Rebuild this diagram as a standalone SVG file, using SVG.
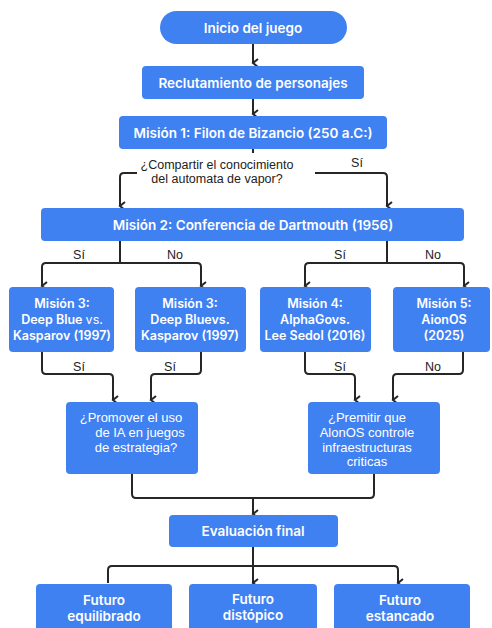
<svg xmlns="http://www.w3.org/2000/svg" width="492" height="628" viewBox="0 0 492 628">
<defs>
<marker id="ah" viewBox="0 0 10 10" refX="5" refY="8" markerWidth="10" markerHeight="10" markerUnits="userSpaceOnUse" orient="auto-start-reverse">
<path d="M1,3 L5,8 L9,3" fill="none" stroke="#262626" stroke-width="2"/>
</marker>
<style>
.b{fill:#3F81F1}
.t{font-family:Inter,"Noto Sans","Liberation Sans",sans-serif;fill:#fff;font-size:13.5px;font-weight:600;text-anchor:middle}
.s{font-size:12.5px}
.q{font-family:"Liberation Sans",Arial,sans-serif;fill:#fff;font-size:13px;font-weight:400;text-anchor:middle}
.l{font-family:"Liberation Sans",Arial,sans-serif;fill:#222;font-size:12.5px;text-anchor:middle}
.c{fill:none;stroke:#262626;stroke-width:2;stroke-linejoin:round}
.a{marker-end:url(#ah)}
</style>
</defs>
<rect width="492" height="628" fill="#fff"/>
<g id="connectors">
<path class="c a" d="M253,44 V63"/>
<path class="c a" d="M253,99 V114"/>
<path class="c" d="M253,149 V153"/>
<path class="c a" d="M137,173 H124 Q120,173 120,177 V206"/>
<path class="c a" d="M315,173 H383 Q387,173 387,177 V206"/>
<path class="c" d="M120,241 V263"/>
<path class="c a" d="M120,263 H46 Q42,263 42,267 V286"/>
<path class="c a" d="M120,263 H197 Q201,263 201,267 V286"/>
<path class="c" d="M387,241 V263"/>
<path class="c a" d="M387,263 H309 Q305,263 305,267 V286"/>
<path class="c a" d="M387,263 H460 Q464,263 464,267 V286"/>
<path class="c a" d="M42,352 V370 Q42,374 46,374 H109 Q113,374 113,378 V400"/>
<path class="c a" d="M201,352 V370 Q201,374 197,374 H155 Q151,374 151,378 V400"/>
<path class="c a" d="M305,352 V370 Q305,374 309,374 H351 Q355,374 355,378 V400"/>
<path class="c a" d="M463,352 V370 Q463,374 459,374 H397 Q393,374 393,378 V400"/>
<path class="c" d="M132,474 V494 Q132,498 136,498 H370 Q374,498 374,494 V474"/>
<path class="c a" d="M253,498 V514"/>
<path class="c a" d="M253,547 V583"/>
<path class="c a" d="M108,583 V570 Q108,566 112,566 H394 Q398,566 398,570 V583"/>
<text class="l" x="357" y="167">Sí</text>
<text class="l" x="79" y="259">Sí</text>
<text class="l" x="175" y="259">No</text>
<text class="l" x="340" y="259">Sí</text>
<text class="l" x="433" y="259">No</text>
<text class="l" x="79" y="371">Sí</text>
<text class="l" x="170" y="371">Sí</text>
<text class="l" x="340" y="371">Sí</text>
<text class="l" x="433" y="371">No</text>
<text class="l" x="217" y="169">¿Compartir el conocimiento</text>
<text class="l" x="217" y="183">del automata de vapor?</text>
</g>
<g id="inicio">
<rect class="b" x="160" y="11" width="187" height="33" rx="16.5"/>
<text class="t" x="253" y="32.5">Inicio del juego</text>
</g>
<g id="reclutamiento">
<rect class="b" x="142" y="66" width="222" height="33" rx="4"/>
<text class="t" x="253" y="87.5">Reclutamiento de personajes</text>
</g>
<g id="mision1">
<rect class="b" x="119" y="116" width="268" height="33" rx="4"/>
<text class="t" x="253" y="137.5">Misión 1: Filon de Bizancio (250 a.C:)</text>
</g>
<g id="mision2">
<rect class="b" x="41" y="208" width="423" height="33" rx="4"/>
<text class="t" x="253" y="229.5">Misión 2: Conferencia de Dartmouth (1956)</text>
</g>
<g id="mision3a">
<rect class="b" x="9" y="287" width="105" height="65" rx="4"/>
<text class="t s" x="62" y="308">Misión 3:</text>
<text class="t s" x="62" y="324">Deep Blue <tspan font-weight="400">vs.</tspan></text>
<text class="t s" x="62" y="340">Kasparov (1997)</text>
</g>
<g id="mision3b">
<rect class="b" x="135" y="287" width="111" height="65" rx="4"/>
<text class="t s" x="190" y="308">Misión 3:</text>
<text class="t s" x="190" y="324">Deep Bluevs.</text>
<text class="t s" x="190" y="340">Kasparov (1997)</text>
</g>
<g id="mision4">
<rect class="b" x="260" y="287" width="111" height="65" rx="4"/>
<text class="t s" x="315" y="308">Misión 4:</text>
<text class="t s" x="315" y="324">AlphaGovs.</text>
<text class="t s" x="315" y="340">Lee Sedol (2016)</text>
</g>
<g id="mision5">
<rect class="b" x="393" y="287" width="97" height="65" rx="4"/>
<text class="t s" x="444" y="308">Misión 5:</text>
<text class="t s" x="444" y="324">AionOS</text>
<text class="t s" x="444" y="340">(2025)</text>
</g>
<g id="promover">
<rect class="b" x="66" y="402" width="132" height="72" rx="4"/>
<text class="q" x="131" y="421.5">¿Promover el uso</text>
<text class="q" x="140" y="436.5">de IA en juegos</text>
<text class="q" x="136" y="451.5">de estrategia?</text>
</g>
<g id="permitir">
<rect class="b" x="308" y="402" width="132" height="72" rx="4"/>
<text class="q" x="367" y="421.5">¿Premitir que</text>
<text class="q" x="367" y="436.5">AlonOS controle</text>
<text class="q" x="367" y="451.5">infraestructuras</text>
<text class="q" x="367" y="466">criticas</text>
</g>
<g id="evaluacion">
<rect class="b" x="169" y="515" width="169" height="32" rx="4"/>
<text class="t" x="253" y="536">Evaluación final</text>
</g>
<g id="futuro1">
<rect class="b" x="36" y="584" width="136" height="50" rx="4"/>
<text class="t" x="104" y="605">Futuro</text>
<text class="t" x="104" y="621">equilibrado</text>
</g>
<g id="futuro2">
<rect class="b" x="189" y="584" width="128" height="50" rx="4"/>
<text class="t" x="253" y="604">Futuro</text>
<text class="t" x="253" y="620">distópico</text>
</g>
<g id="futuro3">
<rect class="b" x="334" y="584" width="136" height="50" rx="4"/>
<text class="t" x="400" y="605">Futuro</text>
<text class="t" x="400" y="621">estancado</text>
</g>
</svg>
